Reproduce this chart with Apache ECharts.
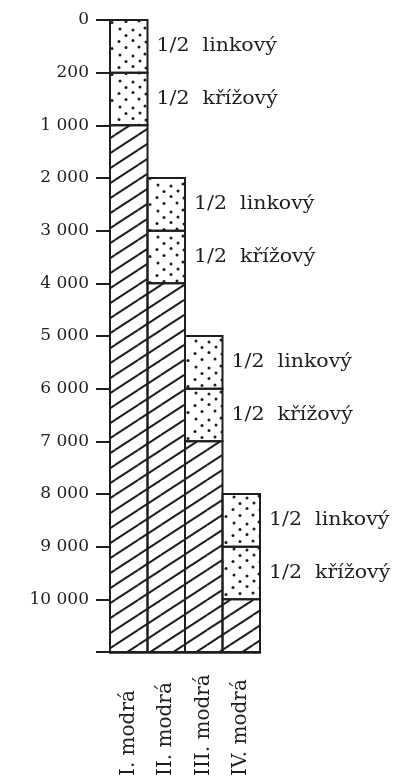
<!DOCTYPE html>
<html>
<head>
<meta charset="utf-8">
<script src="https://cdn.jsdelivr.net/npm/echarts@6/dist/echarts.min.js"></script>
<style>
  html, body { margin: 0; padding: 0; background: #ffffff; }
  #chart { width: 414px; height: 781px; }
</style>
</head>
<body>
<div id="chart"></div>
<script>
// Depth scale (hours of exposure) – ticks evenly spaced, not proportional
const depthStops = [0, 200, 1000, 2000, 3000, 4000, 5000, 6000, 7000, 8000, 9000, 10000, 11000];
const labelledStops = 12; // the last stop is the open bottom edge, left unlabelled

// Columns
const categories = ['I. modrá', 'II. modrá', 'III. modrá', 'IV. modrá'];
const linkovyFrom = [0, 2000, 5000, 8000];
const krizovyFrom = [200, 3000, 6000, 9000];
const modraFrom   = [1000, 4000, 7000, 10000];
const columnEnd   = [11000, 11000, 11000, 11000];

const segmentNames = ['1/2  linkový', '1/2  křížový'];

const INK = '#1e1e1e';
const SERIF = '"DejaVu Serif", "Liberation Serif", serif';

// value -> position on the stepped axis
function toPos(v) {
  for (let k = 0; k < depthStops.length - 1; k++) {
    const a = depthStops[k], b = depthStops[k + 1];
    if (v <= b) return k + (v - a) / (b - a);
  }
  return depthStops.length - 1;
}

function formatDepth(v) {
  return String(v).replace(/\B(?=(\d{3})+(?!\d))/g, ' ');
}

// Fill patterns
function makeDots() {
  const c = document.createElement('canvas');
  c.width = 38; c.height = 26;
  const g = c.getContext('2d');
  const dots = [[6, 3], [19, 4], [31, 2], [12, 9.5], [26, 9], [5, 15.5], [19, 14.5], [32, 16],
                [12, 21.5], [25, 21], [36, 22.5]];
  g.fillStyle = INK;
  dots.forEach(function (d) {
    g.beginPath(); g.arc(d[0], d[1], 1.5, 0, Math.PI * 2); g.fill();
  });
  return c;
}
function makeHatch() {
  const w = 23, h = 15;
  const c = document.createElement('canvas');
  c.width = w; c.height = h;
  const g = c.getContext('2d');
  g.strokeStyle = INK; g.lineWidth = 2;
  for (let dx = -w; dx <= w; dx += w) {
    for (let dy = -h; dy <= h; dy += h) {
      g.beginPath(); g.moveTo(dx, h + dy); g.lineTo(w + dx, dy); g.stroke();
    }
  }
  return c;
}
const dotPattern = { image: makeDots(), repeat: 'repeat' };
const hatchPattern = { image: makeHatch(), repeat: 'repeat' };

// Segments: [column, from, to, kind]  kind 0 = linkový, 1 = křížový, 2 = modrá
const segments = [];
categories.forEach(function (_, i) {
  segments.push([i, linkovyFrom[i], krizovyFrom[i], 0]);
  segments.push([i, krizovyFrom[i], modraFrom[i], 1]);
  segments.push([i, modraFrom[i], columnEnd[i], 2]);
});

function renderSegment(params, api) {
  const i = api.value(0);
  const p0 = api.coord([i, toPos(api.value(1))]);
  const p1 = api.coord([i, toPos(api.value(2))]);
  const kind = api.value(3);
  const w = api.size([1, 0])[0];
  const children = [{
    type: 'rect',
    shape: { x: p0[0] - w / 2, y: p0[1], width: w, height: p1[1] - p0[1] },
    style: { fill: kind === 2 ? hatchPattern : dotPattern, stroke: INK, lineWidth: 2 }
  }];
  if (kind < 2) {
    // wide book face: a slightly stretched serif
    children.push({
      type: 'text',
      x: p0[0] + w / 2 + 9, y: (p0[1] + p1[1]) / 2,
      scaleX: 1.14,
      style: {
        text: segmentNames[kind],
        x: 0, y: 0,
        verticalAlign: 'middle', align: 'left',
        fill: INK, font: '18px ' + SERIF
      }
    });
  }
  return { type: 'group', children: children };
}

const chart = echarts.init(document.getElementById('chart'));
chart.setOption({
  backgroundColor: '#ffffff',
  animation: false,
  grid: { left: 110, top: 20, width: 150, height: 632 },
  xAxis: {
    type: 'category',
    data: categories,
    position: 'bottom',
    axisLine: { onZero: false, lineStyle: { color: INK, width: 2.5 } },
    axisTick: { show: false },
    axisLabel: {
      interval: 0, rotate: 90, align: 'left', margin: 124,
      color: INK, fontFamily: SERIF, fontSize: 20
    },
    splitLine: { show: false }
  },
  yAxis: {
    type: 'value',
    inverse: true,
    min: 0, max: depthStops.length - 1, interval: 1,
    axisLine: { show: true, lineStyle: { color: INK, width: 2 } },
    axisTick: { show: true, length: 14, lineStyle: { color: INK, width: 2 } },
    axisLabel: {
      margin: 21, color: INK, fontFamily: SERIF, fontSize: 17,
      formatter: function (v) { return v < labelledStops ? formatDepth(depthStops[v]) : ''; }
    },
    splitLine: { show: false }
  },
  series: [{
    type: 'custom',
    renderItem: renderSegment,
    encode: { x: 0, y: 1 },
    clip: false,
    data: segments
  }]
});
</script>
</body>
</html>
